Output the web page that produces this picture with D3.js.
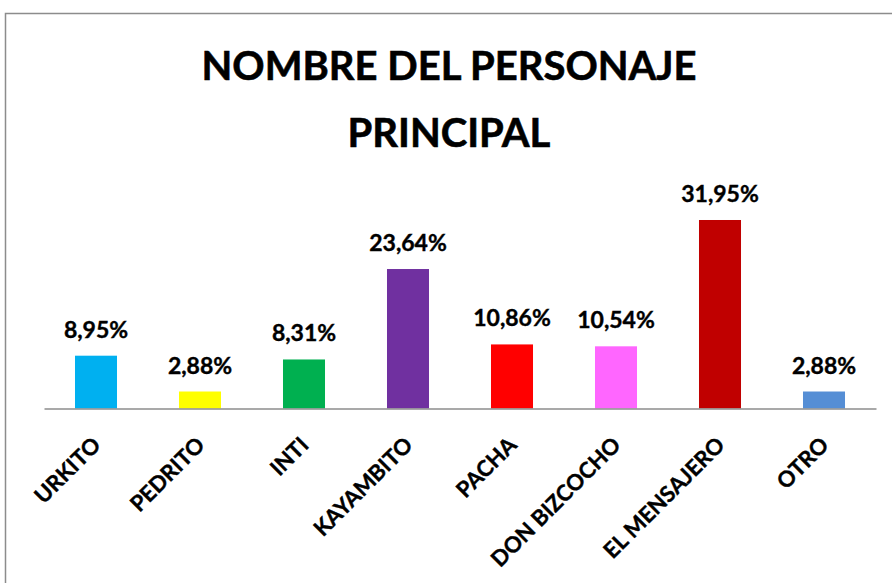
<!DOCTYPE html>
<html>
<head>
<meta charset="utf-8">
<script src="https://cdn.jsdelivr.net/npm/d3@7"></script>
<style>
  body { margin: 0; background: #fff; }
  text { font-family: Lato, "Open Sans", sans-serif; font-weight: bold; fill: #000; }
</style>
</head>
<body>
<div id="chart"></div>
<script>
var categories = ["URKITO", "PEDRITO", "INTI", "KAYAMBITO", "PACHA", "DON BIZCOCHO", "EL MENSAJERO", "OTRO"];
var values = [8.95, 2.88, 8.31, 23.64, 10.86, 10.54, 31.95, 2.88];
var colors = ["#00B0F0", "#FFFF00", "#00B050", "#7030A0", "#FF0000", "#FF66FF", "#C00000", "#558ED5"];
var titleLines = ["NOMBRE DEL PERSONAJE", "PRINCIPAL"];

var width = 892, height = 583;

var svg = d3.select("#chart").
    append("svg").
    attr("width", width).
    attr("height", height);

// outer frame
svg.append("rect").
    attr("x", 5.5).attr("y", 13.5).
    attr("width", 900).attr("height", 600).
    attr("fill", "none").
    attr("stroke", "#8c8c8c").
    attr("stroke-width", 1.5);

// title
svg.selectAll("text.title").
    data(titleLines).
    enter().append("text").
    attr("class", "title").
    attr("x", 449).
    attr("y", function(d, i) { return 80 + i * 67; }).
    attr("text-anchor", "middle").
    style("font-size", "40px").
    style("stroke", "#000").
    style("stroke-width", 0.6).
    text(function(d) { return d; });

var x = d3.scaleBand().domain(categories).range([44, 876]).paddingInner(0.596).paddingOuter(0.298);
var y = d3.scaleLinear().domain([0, 35]).range([408.5, 202]);

svg.selectAll("rect.bar").
    data(values).
    enter().append("rect").
    attr("class", "bar").
    attr("x", function(d, i) { return x(categories[i]); }).
    attr("y", function(d) { return y(d); }).
    attr("width", x.bandwidth()).
    attr("height", function(d) { return y(0) - y(d); }).
    attr("fill", function(d, i) { return colors[i]; });

// value labels
svg.selectAll("text.val").
    data(values).
    enter().append("text").
    attr("class", "val").
    attr("x", function(d, i) { return x(categories[i]) + x.bandwidth() / 2; }).
    attr("y", function(d) { return y(d) - 18; }).
    attr("text-anchor", "middle").
    style("font-size", "23px").
    style("stroke", "#000").
    style("stroke-width", 0.4).
    text(function(d) { return d.toFixed(2).replace(".", ",") + "%"; });

// axis
var axis = d3.axisBottom(x).tickSize(0).tickPadding(0);
var g = svg.append("g").
    attr("transform", "translate(0," + y(0) + ")").
    call(axis);
g.select(".domain").attr("stroke", "#8c8c8c").attr("stroke-width", 1.5);
g.selectAll(".tick text").
    attr("y", 0).attr("dy", 0).
    attr("text-anchor", "end").
    attr("transform", "translate(6,38) rotate(-45)").
    style("font-size", "22px").
    style("font-weight", "bold").
    style("stroke", "#000").
    style("stroke-width", 0.4).
    style("font-family", "Lato, 'Open Sans', sans-serif");
</script>
</body>
</html>
